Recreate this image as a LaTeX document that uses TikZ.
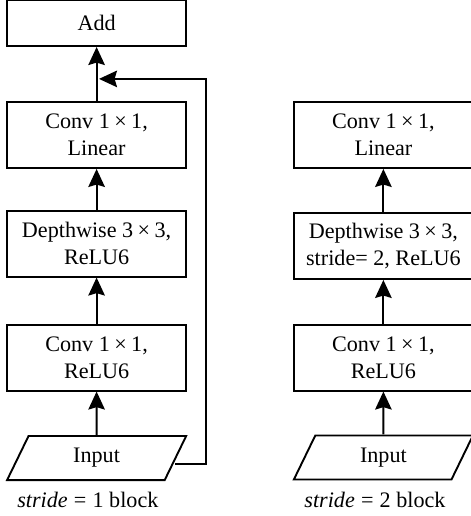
\documentclass[tikz,border=0pt]{standalone}
\usepackage{fontspec}
\setmainfont{Liberation Serif}
\usepackage{tikz}
\usetikzlibrary{arrows.meta,shapes.geometric}

\newcommand{\bytimes}{\hspace{0.2em}×\hspace{0.2em}}
\newcommand{\iseq}{\hspace{0.28em}=\hspace{0.28em}}

\begin{document}
\begin{tikzpicture}[
  txt/.style={font=\fontsize{21}{26}\selectfont},
  box/.style={draw, txt, line width=1.8pt, minimum width=5.97cm, minimum height=2.2cm, align=center},
  inbox/.style={draw, txt, line width=1.8pt, trapezium, trapezium left angle=50.7, trapezium right angle=129.3, trapezium stretches body, minimum width=5.97cm, minimum height=1.47cm},
  arr/.style={-{Stealth[length=0.6cm,width=0.55cm,inset=0.08cm]}, line width=1.8pt}
]
\useasboundingbox (0,0) rectangle (15.7,17.2);
\clip (0,0) rectangle (15.7,17.2);

% stride = 1 block
\node[box, minimum height=1.53cm] (add) at (3.22,16.43) {Add};
\node[box] (cvL) at (3.22,12.7) {Conv 1\bytimes1,\\ Linear};
\node[box] (dwL) at (3.22,9.08) {Depthwise 3\bytimes3,\\ ReLU6};
\node[box] (c1L) at (3.22,5.28) {Conv 1\bytimes1,\\ ReLU6};
\node[inbox] (inL) at (3.22,1.93) {Input};
\node[txt, anchor=base] (labL) at (2.93,0.27) {\textit{stride}\iseq1 block};

\draw[arr] (inL) -- (c1L);
\draw[arr] (c1L) -- (dwL);
\draw[arr] (dwL) -- (cvL);
\draw[arr] (cvL) -- (add);

% shortcut
\coordinate (skip) at (6.87,14.57);
\draw[arr] ([xshift=-0.05cm,yshift=-0.2cm]inL.east) -| (skip) -- ([xshift=0.08cm]add.south |- skip);

% stride = 2 block
\node[box] (cvR) at (12.78,12.7) {Conv 1\bytimes1,\\ Linear};
\node[box] (dwR) at (12.78,9.0) {Depthwise 3\bytimes3,\\ stride= 2, ReLU6};
\node[box] (c1R) at (12.78,5.28) {Conv 1\bytimes1,\\ ReLU6};
\node[inbox] (inR) at (12.78,1.95) {Input};
\node[txt, anchor=base] (labR) at (12.5,0.27) {\textit{stride}\iseq2 block};

\draw[arr] (inR) -- (c1R);
\draw[arr] (c1R) -- (dwR);
\draw[arr] (dwR) -- (cvR);

\end{tikzpicture}
\end{document}
